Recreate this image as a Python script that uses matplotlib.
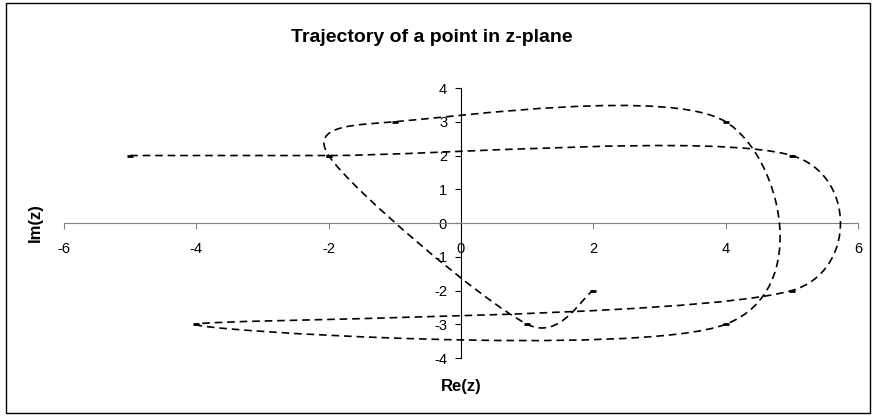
import matplotlib
matplotlib.use("Agg")
import matplotlib.pyplot as plt
import numpy as np
from matplotlib.path import Path
from matplotlib.patches import PathPatch, Rectangle

# points of the trajectory, in order
re_vals = [-5, -2, 5, 5, -4, 4, 4, -1, -2, 1, 2]
im_vals = [2, 2, 2, -2, -3, -3, 3, 3, 2, -3, -2]

x_ticks = [-6, -4, -2, 0, 2, 4, 6]
y_ticks = [-4, -3, -2, -1, 0, 1, 2, 3, 4]

plt.rcParams['font.family'] = ['Liberation Sans', 'DejaVu Sans']
plt.rcParams['lines.scale_dashes'] = False
plt.rcParams['axes.unicode_minus'] = False

fig = plt.figure(figsize=(8.73, 4.16), dpi=100)
ax = fig.add_axes([0.0733, 0.1394, 0.9095, 0.649])
ax.set_xlim(-6, 6)
ax.set_ylim(-4, 4)

# smoothed line like a spreadsheet scatter chart (bezier in screen space)
pts = ax.transData.transform(np.column_stack([re_vals, im_vals]))
n = len(pts)
verts = [pts[0]]
codes = [Path.MOVETO]
for i in range(n - 1):
    p0 = pts[max(i - 1, 0)]
    p1 = pts[i]
    p2 = pts[i + 1]
    p3 = pts[min(i + 2, n - 1)]
    d02 = np.hypot(*(p2 - p0))
    d12 = np.hypot(*(p2 - p1))
    d13 = np.hypot(*(p3 - p1))
    f0 = 1 / 6 if d02 / 6 < d12 / 2 else d12 / d02 / 2
    f1 = 1 / 6 if d13 / 6 < d12 / 2 else d12 / d13 / 2
    verts += [p1 + f0 * (p2 - p0), p2 - f1 * (p3 - p1), p2]
    codes += [Path.CURVE4] * 3
verts = ax.transData.inverted().transform(np.array(verts))
ax.add_patch(PathPatch(Path(verts, codes), fill=False, edgecolor='black',
                       lw=1.2, linestyle=(0, (5.5, 3.5)), zorder=3))
ax.plot(re_vals, im_vals, linestyle='none', marker='_', ms=5, mew=2,
        color='black', zorder=4)

for s in ['top', 'right']:
    ax.spines[s].set_visible(False)
ax.spines['left'].set_position(('data', 0))
ax.spines['bottom'].set_position(('data', 0))
ax.spines['bottom'].set_color('#808080')
ax.spines['left'].set_color('black')
ax.set_xticks(x_ticks)
ax.set_yticks(y_ticks)
ax.tick_params(axis='x', direction='out', length=4.5, color='#808080',
               pad=9, labelsize=10.5)
ax.tick_params(axis='y', direction='out', length=4, color='black',
               pad=6, labelsize=10.5)
ax.patch.set_visible(False)

fig.text(0.495, 0.911, 'Trajectory of a point in z-plane', ha='center',
         va='center', fontsize=14, fontweight='bold')
fig.text(0.528, 0.07, 'Re(z)', ha='center', va='center', fontsize=12,
         fontweight='bold')
fig.text(0.04, 0.464, 'Im(z)', ha='center', va='center', fontsize=12,
         fontweight='bold', rotation=90)

fig.patches.append(Rectangle((0.007, 0.008), 0.989, 0.985, transform=fig.transFigure,
                             fill=False, edgecolor='black', lw=1))

fig.savefig('out.png', dpi=100)
